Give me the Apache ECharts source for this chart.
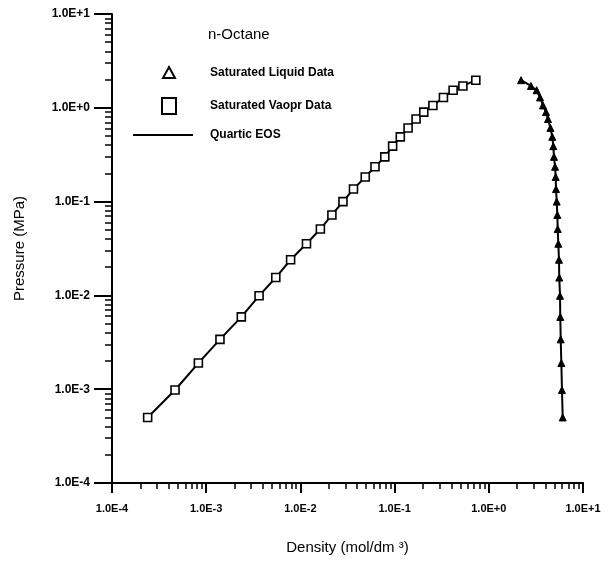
<!DOCTYPE html>
<html>
<head>
<meta charset="utf-8">
<script src="https://cdn.jsdelivr.net/npm/echarts@6/dist/echarts.min.js"></script>
<style>
  html, body { margin: 0; padding: 0; background: #fff; }
  #chart { width: 614px; height: 564px; }
</style>
</head>
<body>
<div id="chart"></div>
<script>
// Saturation pressures (MPa), shared by the vapour and liquid branches
const pressure = [5.0e-4, 9.8e-4, 1.9e-3, 3.4e-3, 5.9e-3, 9.9e-3, 1.55e-2, 2.4e-2, 3.55e-2, 5.1e-2,
  7.2e-2, 0.10, 0.136, 0.183, 0.235, 0.30, 0.39, 0.49, 0.61, 0.76, 0.90, 1.06, 1.29, 1.54, 1.71, 1.97];
// Saturated vapour densities (mol/dm3)
const vaporDensity = [2.39e-4, 4.67e-4, 8.26e-4, 1.40e-3, 2.36e-3, 3.64e-3, 5.48e-3, 7.87e-3, 1.16e-2, 1.63e-2,
  2.16e-2, 2.83e-2, 3.66e-2, 4.88e-2, 6.19e-2, 7.87e-2, 9.53e-2, 0.115, 0.139, 0.169, 0.204, 0.255, 0.330, 0.418, 0.531, 0.728];
// Saturated liquid densities (mol/dm3)
const liquidDensity = [6.09, 5.98, 5.89, 5.80, 5.74, 5.70, 5.60, 5.56, 5.47, 5.39,
  5.34, 5.26, 5.17, 5.13, 5.05, 4.92, 4.84, 4.72, 4.51, 4.25, 4.05, 3.76, 3.50, 3.22, 2.80, 2.20];
// Decade tick values for both log axes
const decadeTicks = [1e-4, 1e-3, 1e-2, 1e-1, 1, 10];
const minorMantissa = [2, 3, 4, 5, 6, 7, 8, 9];

const vaporPts = vaporDensity.map((d, i) => [d, pressure[i]]);
const liquidPts = liquidDensity.map((d, i) => [d, pressure[i]]);

const fmt = v => Number(v).toExponential(1).toUpperCase();
const FONT = 'Liberation Sans';

const chart = echarts.init(document.getElementById('chart'), null, { renderer: 'canvas' });

chart.setOption({
  animation: false,
  backgroundColor: '#fff',
  textStyle: { fontFamily: FONT, color: '#000' },
  title: {
    text: 'n-Octane',
    left: 203, top: 22,
    textStyle: { fontFamily: FONT, fontSize: 15, fontWeight: 'normal', color: '#000' }
  },
  legend: [
    {
      data: [{ name: 'Saturated Liquid Data', icon: 'triangle',
        itemStyle: { color: '#fff', borderColor: '#000', borderWidth: 2 } }],
      left: 157, top: 61, itemWidth: 12, itemHeight: 11, selectedMode: false,
      textStyle: { fontFamily: FONT, fontSize: 12, fontWeight: 'bold', color: '#000', padding: [0, 0, 0, 30] }
    },
    {
      data: [{ name: 'Saturated Vaopr Data', icon: 'rect',
        itemStyle: { color: '#fff', borderColor: '#000', borderWidth: 2 } }],
      left: 156, top: 92, itemWidth: 14, itemHeight: 16, selectedMode: false,
      textStyle: { fontFamily: FONT, fontSize: 12, fontWeight: 'bold', color: '#000', padding: [0, 0, 0, 29] }
    },
    {
      data: [{ name: 'Quartic EOS', icon: 'rect', itemStyle: { color: '#000', borderWidth: 0 } }],
      left: 128, top: 124, itemWidth: 60, itemHeight: 2, selectedMode: false,
      textStyle: { fontFamily: FONT, fontSize: 12, fontWeight: 'bold', color: '#000', padding: [0, 0, 0, 12] }
    }
  ],
  grid: { left: 112, right: 31, top: 14, bottom: 81, containLabel: false },
  xAxis: {
    type: 'log', logBase: 10, min: 1e-4, max: 10,
    name: 'Density (mol/dm ³)', nameLocation: 'middle', nameGap: 57,
    nameTextStyle: { fontFamily: FONT, fontSize: 15, color: '#000' },
    axisLine: { lineStyle: { color: '#000', width: 2 } },
    axisTick: { show: true, inside: false, length: 10, lineStyle: { color: '#000', width: 2 } },
    minorTick: { show: true, splitNumber: 9, length: 6, lineStyle: { color: '#000', width: 1.5 } },
    axisLabel: { formatter: fmt, fontFamily: FONT, fontSize: 11, fontWeight: 'bold', color: '#000', margin: 20 },
    splitLine: { show: false }
  },
  yAxis: {
    type: 'log', logBase: 10, min: 1e-4, max: 10,
    name: 'Pressure (MPa)', nameLocation: 'middle', nameGap: 85,
    nameTextStyle: { fontFamily: FONT, fontSize: 15, color: '#000' },
    axisLine: { lineStyle: { color: '#000', width: 2 } },
    axisTick: { show: true, inside: false, length: 18, lineStyle: { color: '#000', width: 2 } },
    minorTick: { show: true, splitNumber: 9, length: 7, lineStyle: { color: '#000', width: 1.5 } },
    axisLabel: { formatter: fmt, fontFamily: FONT, fontSize: 12, fontWeight: 'bold', color: '#000', margin: 22 },
    splitLine: { show: false }
  },
  series: [
    {
      name: 'Quartic EOS', type: 'line', data: vaporPts, showSymbol: false, z: 2,
      lineStyle: { color: '#000', width: 2 }
    },
    {
      name: 'Quartic EOS', type: 'line', data: liquidPts, showSymbol: false, z: 2,
      lineStyle: { color: '#000', width: 2 }
    },
    {
      name: 'Saturated Vaopr Data', type: 'scatter', data: vaporPts, symbol: 'rect', symbolSize: 8, z: 3,
      itemStyle: { color: '#fff', borderColor: '#000', borderWidth: 1.6, opacity: 1 }
    },
    {
      name: 'Saturated Liquid Data', type: 'scatter', data: liquidPts, symbol: 'triangle', symbolSize: 7, z: 3,
      itemStyle: { color: '#000', borderColor: '#000', borderWidth: 1, opacity: 1 }
    }
  ]
});
</script>
</body>
</html>
